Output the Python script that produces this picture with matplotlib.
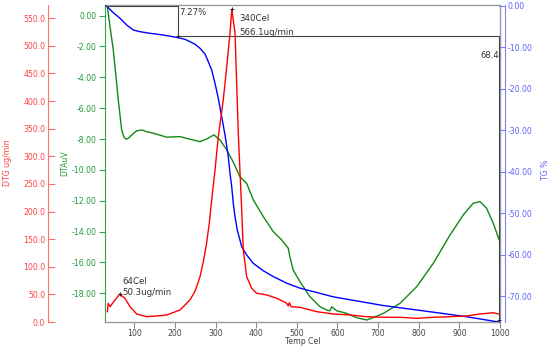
import numpy as np
import matplotlib
matplotlib.use("Agg")
import matplotlib.pyplot as plt

# TG curve (weight %, negative = loss)
tg_temp = [30, 33.7, 48.4, 64.9, 81.4, 97.6, 114.1, 138.7, 171.5, 208.4, 224.9, 237.2, 249.5,
           261.8, 274.1, 282.2, 290.5, 298.7, 306.8, 315.2, 323.3, 331.4, 335.6, 339.8, 343.7,
           347.9, 353.5, 364.4, 376.7, 392.9, 417.5, 442.1, 475.1, 507.8, 589.8, 712.8, 835.8,
           918, 998]
tg_val = [0.0, -0.17, -1.62, -2.97, -4.59, -5.79, -6.2, -6.59, -7.0, -7.65, -8.04, -8.62, -9.24,
          -10.21, -11.59, -13.44, -15.45, -18.66, -22.28, -26.72, -31.14, -36.37, -40.38, -43.61, -47.62,
          -50.86, -54.07, -58.1, -60.1, -62.1, -63.9, -65.3, -66.9, -68.1, -70.2, -72.3, -73.9,
          -75.0, -76.3]

# DTA curve (uV)
dta_temp = [33.7, 40.3, 48.4, 60.7, 69, 74.7, 79.7, 85.3, 93.7, 106, 118.3, 130.6, 146.8, 179.8,
            212.5, 237, 261.8, 278, 296, 311, 327.5, 343.7, 360, 376.6, 393, 417.6, 442, 462.8,
            479, 483, 491, 507.8, 532.4, 557, 575, 581.6, 585.7, 598, 622.7, 647.3, 672, 684,
            713, 754, 795, 836, 877, 909.6, 934, 950.8, 967, 983.5, 998]
dta_val = [0.63, -0.71, -2.22, -5.46, -7.41, -7.88, -8.01, -7.95, -7.73, -7.47, -7.41, -7.52, -7.62, -7.88,
           -7.84, -8.01, -8.17, -8.0, -7.73, -8.06, -8.7, -9.5, -10.44, -10.87, -11.95, -13.03, -14.0, -14.54,
           -15.08, -15.63, -16.49, -17.25, -18.22, -18.87, -19.1, -19.13, -18.87, -19.13, -19.3, -19.58, -19.73, -19.62,
           -19.3, -18.65, -17.57, -16.05, -14.22, -12.92, -12.16, -12.05, -12.49, -13.46, -14.54]

# DTG curve (ug/min)
dtg_temp = [33.7, 36, 40.3, 52.6, 64, 77.2, 89.5, 106, 130.6, 155, 179.8, 212.5, 237, 249.5,
            261.8, 269.9, 278, 284.6, 290.5, 298.7, 306.8, 319, 327.5, 335.6, 340, 348, 356,
            360, 364.4, 368.3, 376.6, 389, 401, 425.9, 450.5, 470, 475, 479, 481.6, 486, 507.8,
            549, 589.8, 631, 672, 713, 754, 795, 836, 877, 918, 950.8, 983.5, 996]
dtg_val = [18.7, 33.9, 27.7, 39.8, 50.3, 42.9, 27.7, 14.5, 9.6, 10.9, 12.7, 21.7, 39.8, 55.6,
           82, 109, 142.5, 178.8, 221, 275, 335.6, 402, 462, 523, 566.1, 523, 341.8,
           275, 203, 130, 82, 61, 52, 49, 43, 36, 33.9, 29, 35, 27.7, 26.6,
           18.7, 14.5, 12.7, 9.6, 8.5, 8.5, 6.7, 8.5, 9.6, 10.9, 14.5, 16.8, 14.5]

# step analysis
step_temp = [30, 208, 998]
step_tg = [0.0, -7.27, -75.73]
step_labels = ["7.27%", "68.46"]

peaks = [(64, 50.3), (340, 566.1)]

fig = plt.figure(figsize=(5.5, 3.47), dpi=100)
ax = fig.add_axes([105 / 550, 25 / 347, 395 / 550, 317 / 347])
ax_tg = ax.twinx()
ax_dtg = ax.twinx()

red_ax = '#ff7070'
red_txt = '#ff4040'
green_ax = '#2aa84a'
green_txt = '#1f9a3a'
blue_ax = '#8080ff'
blue_txt = '#6060ff'
fs = 5.6

# DTA (green, main axis)
ax.plot(dta_temp, dta_val, color='#118811', lw=1.0)
ax.set_xlim(28, 1000)
ax.set_ylim(-19.86, 0.69)
ax.set_yticks(np.arange(-18, 0.1, 2))
ax.set_yticklabels(['%.2f' % v for v in np.arange(-18, 0.1, 2)])
ax.set_xticks(np.arange(100, 1001, 100))
ax.tick_params(axis='y', colors=green_ax, labelcolor=green_txt, direction='out', length=4,
               width=0.8, labelsize=fs, pad=2)
ax.tick_params(axis='x', colors='#888888', labelcolor='#444444', direction='out', length=4,
               width=0.8, labelsize=fs, pad=0.8)
ax.spines['left'].set_color(green_ax)
for s in ['top', 'right', 'bottom']:
    ax.spines[s].set_color('#999999')
    ax.spines[s].set_linewidth(1.0)

# TG (blue, right)
ax_tg.plot(tg_temp, tg_val, color='#0000ff', lw=1.0)
ax_tg.set_ylim(-76.27, 0.24)
ax_tg.set_yticks(np.arange(-70, 0.1, 10))
ax_tg.set_yticklabels(['%.2f' % v for v in np.arange(-70, 0.1, 10)])
ax_tg.spines['right'].set_position(('axes', 1.0127))
ax_tg.spines['right'].set_color(blue_ax)
for s in ['top', 'left', 'bottom']:
    ax_tg.spines[s].set_visible(False)
ax_tg.tick_params(axis='y', colors=blue_ax, labelcolor=blue_txt, direction='in', length=4,
                  width=0.8, labelsize=fs, pad=2)

# DTG (red, far left)
ax_dtg.plot(dtg_temp, dtg_val, color='#ff0000', lw=1.0)
ax_dtg.set_ylim(0, 574)
ax_dtg.set_yticks(np.arange(0, 551, 50))
ax_dtg.set_yticklabels(['%.1f' % v for v in np.arange(0, 551, 50)])
ax_dtg.yaxis.set_ticks_position('left')
ax_dtg.yaxis.set_label_position('left')
ax_dtg.spines['left'].set_visible(True)
ax_dtg.spines['left'].set_position(('axes', -0.1443))
ax_dtg.spines['left'].set_color(red_ax)
for s in ['top', 'right', 'bottom']:
    ax_dtg.spines[s].set_visible(False)
ax_dtg.tick_params(axis='y', colors=red_ax, labelcolor=red_txt, direction='in', length=5,
                   width=0.8, labelsize=fs, pad=2)

# axis titles
fig.text(8 / 550, 1 - 163 / 347, 'DTG ug/min', rotation=90, color=red_txt, fontsize=fs,
         ha='center', va='center')
fig.text(65 / 550, 1 - 163 / 347, 'DTAuV', rotation=90, color=green_txt, fontsize=fs,
         ha='center', va='center')
fig.text(545 / 550, 1 - 170 / 347, 'TG %', rotation=90, color=blue_txt, fontsize=fs,
         ha='center', va='center')
fig.text(303 / 550, 1 - 342 / 347, 'Temp Cel', color='#444444', fontsize=fs,
         ha='center', va='center')

# step annotation on TG
sx = [step_temp[0], step_temp[1], step_temp[1], step_temp[2], step_temp[2]]
sy = [step_tg[0], step_tg[0], step_tg[1], step_tg[1], step_tg[2]]
ax_tg.plot(sx, sy, color='#444444', lw=0.8, clip_on=False)
ax_tg.plot(step_temp[1:], step_tg[1:], '+', color='#222222', ms=3, mew=0.7, clip_on=False)
ax_tg.annotate(step_labels[0], (step_temp[1], step_tg[0]), xytext=(1, -7),
               textcoords='offset pixels', fontsize=6.2, color='#333333', va='center', ha='left')
ax_tg.annotate(step_labels[1], (step_temp[2], step_tg[1]), xytext=(-19, -19),
               textcoords='offset pixels', fontsize=6.0, color='#333333', va='center', ha='left',
               annotation_clip=False, clip_on=True)

# peak annotations on DTG
for (pt, pv) in peaks:
    ax_dtg.plot([pt], [pv], '+', color='#222222', ms=3, mew=0.7)
ax_dtg.annotate('%dCel' % peaks[0][0], peaks[0], xytext=(3, 12.5), textcoords='offset pixels',
                fontsize=6.2, color='#333333', va='center', ha='left')
ax_dtg.annotate('%.1fug/min' % peaks[0][1], peaks[0], xytext=(3, 1.5), textcoords='offset pixels',
                fontsize=6.2, color='#333333', va='center', ha='left')
ax_dtg.annotate('%dCel' % peaks[1][0], peaks[1], xytext=(8, -9), textcoords='offset pixels',
                fontsize=6.2, color='#333333', va='center', ha='left')
ax_dtg.annotate('%.1fug/min' % peaks[1][1], peaks[1], xytext=(8, -23), textcoords='offset pixels',
                fontsize=6.2, color='#333333', va='center', ha='left')

fig.savefig('out.png', dpi=100)
